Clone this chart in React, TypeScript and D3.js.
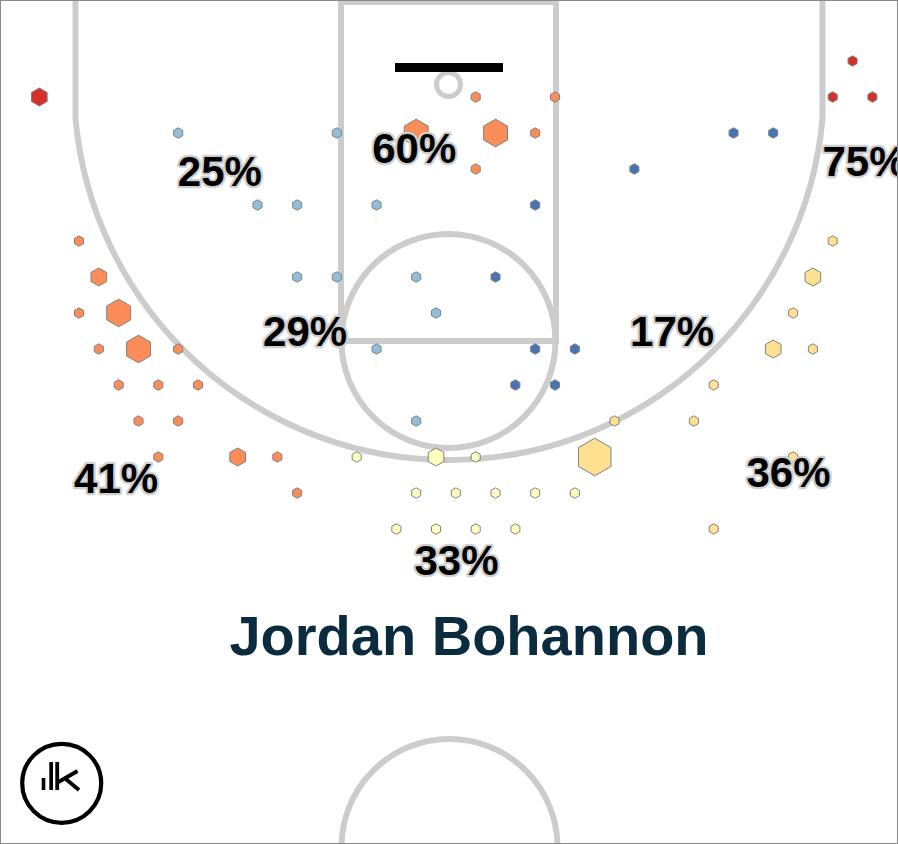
import React from "react";
import * as d3 from "d3";

// ---------- data ----------
const playerName = "Jordan Bohannon";

// shot zones
const zoneNames = [
  "Left Corner 3",
  "Left Baseline Mid",
  "Paint",
  "Left Wing Mid",
  "Right Mid",
  "Right Corner 3",
  "Left Wing 3",
  "Top 3",
  "Right Wing 3",
];
const zonePct: (number | null)[] = [null, 25, 60, 29, 17, 75, 41, 33, 36];
// colour level in RdYlBu[7] (0 = hot, 6 = cold)
const zoneLevel = [0, 5, 1, 5, 6, 0, 1, 3, 2];

// hex cells per zone: [half-column index, row index, shot count]
const hexLeftCorner3 = [[0, 1, 3]];
const hexLeftBaselineMid = [[7, 2, 1], [15, 2, 1], [11, 4, 1], [13, 4, 1], [17, 4, 1]];
const hexPaint = [[22, 1, 1], [26, 1, 1], [19, 2, 7], [23, 2, 7], [25, 2, 1], [22, 3, 1]];
const hexLeftWingMid = [[13, 6, 1], [15, 6, 1], [19, 6, 1], [20, 7, 1], [17, 8, 1], [19, 10, 1]];
const hexRightMid = [[25, 4, 1], [23, 6, 1], [25, 8, 1], [27, 8, 1], [24, 9, 1], [26, 9, 1], [35, 2, 1], [37, 2, 1], [30, 3, 1]];
const hexRightCorner3 = [[41, 0, 1], [40, 1, 1], [42, 1, 1], [40, 3, 1]];
const hexLeftWing3 = [
  [2, 5, 1], [3, 6, 3], [2, 7, 1], [4, 7, 7], [3, 8, 1], [5, 8, 7], [7, 8, 1],
  [4, 9, 1], [6, 9, 1], [8, 9, 1], [5, 10, 1], [7, 10, 1], [6, 11, 1], [10, 11, 3],
  [12, 11, 1], [13, 12, 1],
];
const hexTop3 = [
  [16, 11, 1], [20, 11, 3], [22, 11, 1], [19, 12, 1], [21, 12, 1], [23, 12, 1],
  [25, 12, 1], [27, 12, 1], [18, 13, 1], [20, 13, 1], [22, 13, 1], [24, 13, 1],
];
const hexRightWing3 = [
  [40, 5, 1], [39, 6, 3], [38, 7, 1], [37, 8, 3], [39, 8, 1], [34, 9, 1],
  [29, 10, 1], [33, 10, 1], [28, 11, 13], [38, 11, 1], [34, 13, 1],
];
const zoneHexes = [
  hexLeftCorner3, hexLeftBaselineMid, hexPaint, hexLeftWingMid, hexRightMid,
  hexRightCorner3, hexLeftWing3, hexTop3, hexRightWing3,
];

// ---------- layout ----------
const W = 898;
const H = 844;
// label anchors in the same grid units as the hexes
const labelAnchor: [number, number][] = [
  [-3, 3.2], [9.1, 3.47], [18.9, 2.83], [13.4, 7.92], [31.9, 7.92],
  [41.6, 3.19], [3.87, 12.0], [21.03, 14.28], [37.77, 11.83],
];

const xScale = d3.scaleLinear().domain([0, 42]).range([39.33, 872.4]);
const yScale = d3.scaleLinear().domain([0, 13]).range([61, 529]);
const rScale = d3.scaleSqrt().domain([0, 13]).range([0, 18.8]);
const colors = d3.schemeRdYlBu[7];

function hexPath(r: number) {
  const pts = d3.range(6).map((i) => {
    const a = (i * Math.PI) / 3;
    return [Math.sin(a) * r, -Math.cos(a) * r];
  });
  return "M" + pts.map((p) => p[0].toFixed(2) + "," + p[1].toFixed(2)).join("L") + "Z";
}

const LINE = "#cccccc";
const LW = 6;

export default function App() {
  const cx = 449;
  const arcCy = 85;
  const arcR = 375;
  const cornerHalf = 373.5;
  const joinY = arcCy + Math.sqrt(arcR * arcR - cornerHalf * cornerHalf);
  const threePath = `M${cx - cornerHalf},0 L${cx - cornerHalf},${joinY} A${arcR},${arcR} 0 0 0 ${cx + cornerHalf},${joinY} L${cx + cornerHalf},0`;

  const cells = zoneHexes.flatMap((list, z) =>
    list.map(([h, r, n]) => ({ h, r, n, z }))
  );

  const font = "'Liberation Sans', Arial, Helvetica, sans-serif";

  return (
    <svg
      width={W}
      height={H}
      style={{ position: "absolute", left: 0, top: 0, background: "#fff" }}
      fontFamily={font}
    >
      <rect x={0} y={0} width={W} height={H} fill="#fff" />
      {/* court */}
      <g fill="none" stroke={LINE} strokeWidth={LW}>
        <rect x={341} y={2} width={215} height={339} />
        <circle cx={448.5} cy={341} r={107} />
        <path d={threePath} />
        <circle cx={448.5} cy={84.5} r={12} strokeWidth={5} />
        <circle cx={449.5} cy={847} r={108} />
      </g>
      <rect x={395} y={63} width={108} height={9} fill="#000" />

      {/* hexes */}
      <g stroke="#808080" strokeWidth={1}>
        {cells.map((c, i) => (
          <path
            key={i}
            transform={`translate(${xScale(c.h)},${yScale(c.r)})`}
            d={hexPath(rScale(c.n))}
            fill={colors[zoneLevel[c.z]]}
          />
        ))}
      </g>

      {/* zone labels */}
      <g
        fontSize={42}
        fontWeight="bold"
        textAnchor="middle"
        fill="#000"
        stroke="#cfcfcf"
        strokeWidth={4.5}
        style={{ paintOrder: "stroke" }}
        strokeLinejoin="round"
      >
        {zonePct.map((p, i) =>
          p == null ? null : (
            <text key={i} x={xScale(labelAnchor[i][0])} y={yScale(labelAnchor[i][1])}>
              {p + "%"}
            </text>
          )
        )}
      </g>

      {/* title */}
      <text
        x={469}
        y={655}
        textAnchor="middle"
        fontSize={56}
        fontWeight="bold"
        fill="#0b2c3e"
      >
        {playerName}
      </text>

      {/* logo */}
      <g>
        <circle cx={61.7} cy={783.3} r={39.5} fill="#fff" stroke="#000" strokeWidth={4.2} />
        <rect x={41.7} y={778} width={3.6} height={12} fill="#000" />
        <rect x={49.3} y={762} width={3.7} height={28} fill="#000" />
        <rect x={55.3} y={762} width={3.8} height={28} fill="#000" />
        <g stroke="#000" strokeWidth={3.8} strokeLinecap="butt">
          <line x1={58.5} y1={782} x2={77.5} y2={771} />
          <line x1={64} y1={777.5} x2={79} y2={790} />
        </g>
      </g>

      {/* frame */}
      <rect x={0.5} y={0.5} width={W - 1} height={H - 1} fill="none" stroke="#8a8a8a" strokeWidth={1} />
    </svg>
  );
}
